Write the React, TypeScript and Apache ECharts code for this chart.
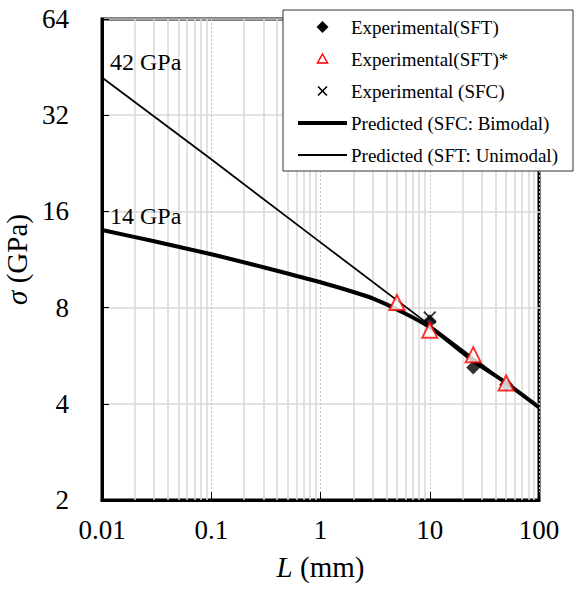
import React, { useEffect, useRef } from 'react';
import * as echarts from 'echarts';

const xTickLabels = ['0.01', '0.1', '1', '10', '100'];
const yTickLabels = ['2', '4', '8', '16', '32', '64'];

const bimodalL = [0.01, 0.03, 0.1, 0.3, 1, 2, 3, 5, 10, 25, 50, 100];
const bimodalSigma = [14.0, 12.9, 11.75, 10.7, 9.6, 8.95, 8.55, 7.9, 6.95, 5.45, 4.65, 3.9];
const unimodalL = [0.01, 0.1, 1, 10, 100];
const unimodalSigma = [42, 23.3, 12.8, 7.05, 3.9];
const sftL = [10, 25, 50];
const sftSigma = [7.25, 5.2, 4.6];
const sftStarL = [5, 10, 25, 50];
const sftStarSigma = [8.3, 6.8, 5.7, 4.65];
const sfcL = [10];
const sfcSigma = [7.45];

const legendNames = [
  'Experimental(SFT)',
  'Experimental(SFT)*',
  'Experimental (SFC)',
  'Predicted (SFC: Bimodal)',
  'Predicted (SFT: Unimodal)',
];

const annotations = [
  { text: '42 GPa', x: 110, y: 62 },
  { text: '14 GPa', x: 110, y: 216 },
];

const minorGridL: number[] = [];
for (const d of [0.01, 0.1, 1, 10]) {
  for (let k = 2; k <= 9; k++) minorGridL.push(+(k * d).toPrecision(2));
}

const FONT = 'Liberation Serif, Times New Roman, serif';
const zip = (a: number[], b: number[]) => a.map((v, i) => [v, b[i]]);
const CROSS = 'path://M0,1L1,0L5,4L9,0L10,1L6,5L10,9L9,10L5,6L1,10L0,9L4,5Z';

function legendGraphic() {
  const bx = 283, by = 10, bw = 290, bh = 161;
  const cx = 322.5, tx = 351, row0 = 27, gap = 32;
  const els: any[] = [
    { type: 'rect', shape: { x: bx, y: by, width: bw, height: bh }, style: { fill: '#fff', stroke: '#333', lineWidth: 1 }, z: 20 },
  ];
  const ys = legendNames.map((_, i) => row0 + i * gap);
  els.push({ type: 'polygon', shape: { points: [[cx - 6, ys[0]], [cx, ys[0] - 6], [cx + 6, ys[0]], [cx, ys[0] + 6]] }, style: { fill: '#000' }, z: 21 });
  els.push({ type: 'polygon', shape: { points: [[cx, ys[1] - 5], [cx + 5, ys[1] + 4], [cx - 5, ys[1] + 4]] }, style: { fill: '#fff', stroke: '#ff0000', lineWidth: 1.5 }, z: 21 });
  els.push({ type: 'line', shape: { x1: cx - 4.5, y1: ys[2] - 4.5, x2: cx + 4.5, y2: ys[2] + 4.5 }, style: { stroke: '#000', lineWidth: 1.6 }, z: 21 });
  els.push({ type: 'line', shape: { x1: cx + 4.5, y1: ys[2] - 4.5, x2: cx - 4.5, y2: ys[2] + 4.5 }, style: { stroke: '#000', lineWidth: 1.6 }, z: 21 });
  els.push({ type: 'line', shape: { x1: 298, y1: ys[3], x2: 347, y2: ys[3] }, style: { stroke: '#000', lineWidth: 4 }, z: 21 });
  els.push({ type: 'line', shape: { x1: 298, y1: ys[4], x2: 347, y2: ys[4] }, style: { stroke: '#000', lineWidth: 1.8 }, z: 21 });
  legendNames.forEach((n, i) => {
    els.push({ type: 'text', x: tx, y: ys[i], z: 21, style: { text: n, fontSize: 19, fontFamily: FONT, fill: '#000', verticalAlign: 'middle', align: 'left' } });
  });
  return els;
}

export default function App() {
  const ref = useRef<HTMLDivElement>(null);
  useEffect(() => {
    const chart = echarts.init(ref.current!, undefined, { renderer: 'svg' });
    chart.setOption({
      animation: false,
      backgroundColor: '#fff',
      textStyle: { fontFamily: FONT },
      grid: {
        left: 102, right: 35, top: 19, bottom: 99, show: true, borderColor: '#000', borderWidth: 3,
        backgroundColor: 'transparent', containLabel: false, outerBoundsMode: 'none',
      },
      xAxis: {
        type: 'log', logBase: 10, min: 0.01, max: 100,
        name: '{i|L} (mm)', nameLocation: 'middle', nameGap: 52,
        nameTextStyle: { fontSize: 29, fontFamily: FONT, color: '#000', rich: { i: { fontStyle: 'italic', fontSize: 29, fontFamily: FONT, color: '#000' } } },
        axisLine: { show: true, lineStyle: { color: '#000', width: 3 } },
        axisTick: { show: true, inside: true, length: 8, lineStyle: { color: '#000', width: 1 } },
        axisLabel: { fontSize: 27, fontFamily: FONT, color: '#000', margin: 16, formatter: (_v: number, i: number) => xTickLabels[i] },
        splitLine: { show: true, lineStyle: { color: '#c4c4c4', width: 1, type: [2, 2] } },
      },
      yAxis: {
        type: 'log', logBase: 2, min: 2, max: 64,
        name: '{i|σ} (GPa)', nameLocation: 'middle', nameGap: 58, nameRotate: 90,
        nameTextStyle: { fontSize: 29, fontFamily: FONT, color: '#000', rich: { i: { fontStyle: 'italic', fontSize: 29, fontFamily: FONT, color: '#000' } } },
        axisLine: { show: true, lineStyle: { color: '#000', width: 3 } },
        axisTick: { show: true, inside: true, length: 7, lineStyle: { color: '#000', width: 1 } },
        axisLabel: { fontSize: 27, fontFamily: FONT, color: '#000', margin: 33, formatter: (_v: number, i: number) => yTickLabels[i] },
        splitLine: { show: true, lineStyle: { color: '#d9d9d9', width: 1.5 } },
      },
      graphic: [
        ...annotations.map((a) => ({
          type: 'text', x: a.x, y: a.y, z: 10,
          style: { text: a.text, fontSize: 24, fontFamily: FONT, fill: '#000', verticalAlign: 'middle' },
        })),
        ...legendGraphic(),
      ],
      series: [
        {
          name: 'minor-grid', type: 'line', data: [], z: 1, silent: true,
          markLine: {
            z: 1, silent: true, symbol: 'none', animation: false,
            label: { show: false },
            lineStyle: { color: '#d9d9d9', width: 1.5, type: 'solid' },
            emphasis: { disabled: true },
            data: minorGridL.map((v) => ({ xAxis: v })),
          },
        },
        {
          name: legendNames[3], type: 'line', symbol: 'none', z: 3, smooth: 0.3,
          lineStyle: { color: '#000', width: 4 }, itemStyle: { color: '#000' },
          data: zip(bimodalL, bimodalSigma),
        },
        {
          name: legendNames[4], type: 'line', symbol: 'none', z: 3,
          lineStyle: { color: '#000', width: 1.8 }, itemStyle: { color: '#000' },
          data: zip(unimodalL, unimodalSigma),
        },
        {
          name: legendNames[0], type: 'scatter', symbol: 'diamond', symbolSize: 14, z: 4,
          itemStyle: { color: '#000' },
          data: zip(sftL, sftSigma),
        },
        {
          name: legendNames[1], type: 'scatter', symbol: 'triangle', symbolSize: 15, z: 5,
          itemStyle: { color: '#fff', borderColor: '#ff0000', borderWidth: 2 },
          data: zip(sftStarL, sftStarSigma),
        },
        {
          name: legendNames[2], type: 'scatter', symbol: CROSS, symbolSize: 13, z: 6,
          itemStyle: { color: '#000' },
          data: zip(sfcL, sfcSigma),
        },
      ],
    });
    return () => chart.dispose();
  }, []);
  return <div ref={ref} style={{ position: 'fixed', left: 0, top: 0, width: 574, height: 599 }} />;
}
